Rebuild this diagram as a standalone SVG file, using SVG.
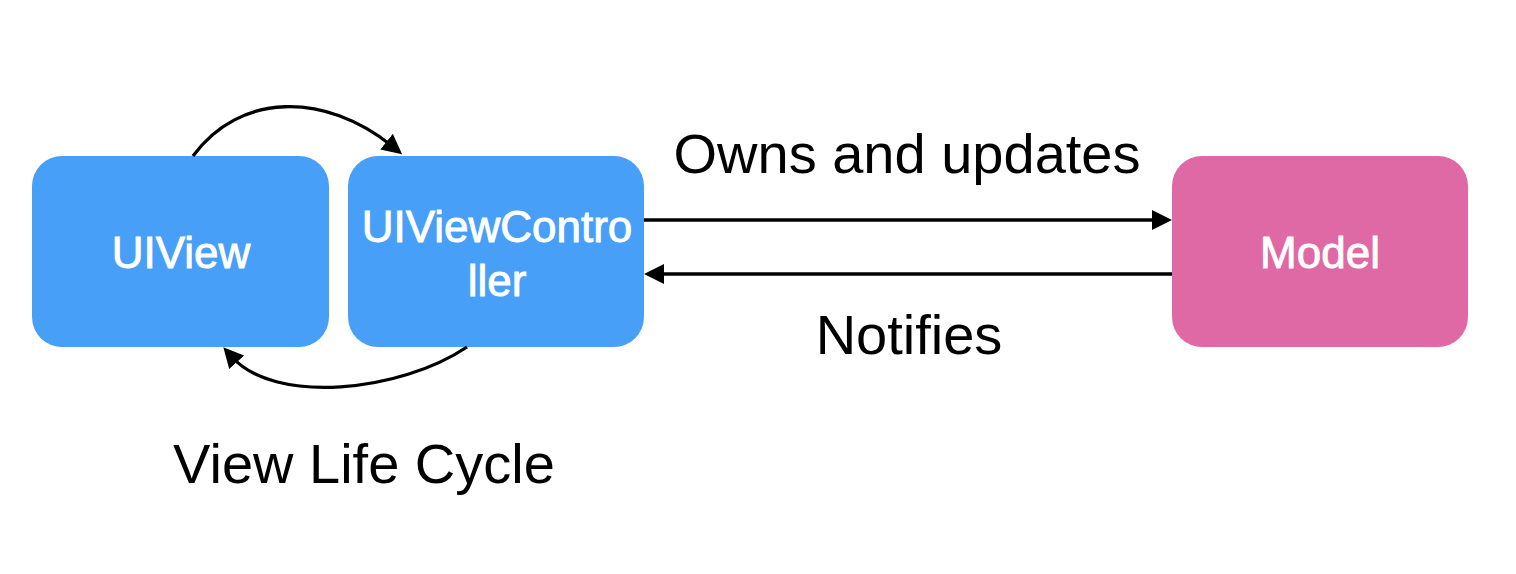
<svg xmlns="http://www.w3.org/2000/svg" width="1516" height="574" viewBox="0 0 1516 574">
  <style>
    .box-blue { fill: #489FF8; }
    .box-pink { fill: #DF69A4; }
    .node-text { font-family: "Liberation Sans", Arial, sans-serif; font-size: 44px; fill: #FFFFFF; stroke: #FFFFFF; stroke-width: 0.9; text-anchor: middle; }
    .label { font-family: "Liberation Sans", Arial, sans-serif; font-size: 56px; fill: #000000; text-anchor: middle; }
    .conn { fill: none; stroke: #000000; stroke-width: 3.3; }
  </style>
  <defs>
    <marker id="arrow" markerUnits="userSpaceOnUse" markerWidth="21" markerHeight="21" refX="7" refY="10.5" orient="auto">
      <path d="M0,0.5 L20,10.5 L0,20.5 Z" fill="#000000"/>
    </marker>
  </defs>
  <rect width="1516" height="574" fill="#FFFFFF"/>

  <g id="node-uiview">
    <rect class="box-blue" x="32" y="156" width="297" height="191" rx="30" ry="30"/>
    <text class="node-text" x="181" y="268">UIView</text>
  </g>
  <g id="node-uiviewcontroller">
    <rect class="box-blue" x="348" y="156" width="296" height="191" rx="30" ry="30"/>
    <text class="node-text" x="497" y="242">UIViewContro</text>
    <text class="node-text" x="497" y="296">ller</text>
  </g>
  <g id="node-model">
    <rect class="box-pink" x="1172" y="156" width="296" height="191" rx="30" ry="30"/>
    <text class="node-text" x="1320" y="268">Model</text>
  </g>

  <g id="connectors">
    <path class="conn" d="M193,156 C240,92 325,92 392,146" marker-end="url(#arrow)"/>
    <path class="conn" d="M467,347 C400,392 275,405 232,357" marker-end="url(#arrow)"/>
    <path class="conn" d="M644,220 L1159,220" marker-end="url(#arrow)"/>
    <path class="conn" d="M1172,274 L657,274" marker-end="url(#arrow)"/>
  </g>

  <g id="labels">
    <text class="label" x="907" y="173">Owns and updates</text>
    <text class="label" x="909" y="354">Notifies</text>
    <text class="label" x="364" y="483">View Life Cycle</text>
  </g>
</svg>
